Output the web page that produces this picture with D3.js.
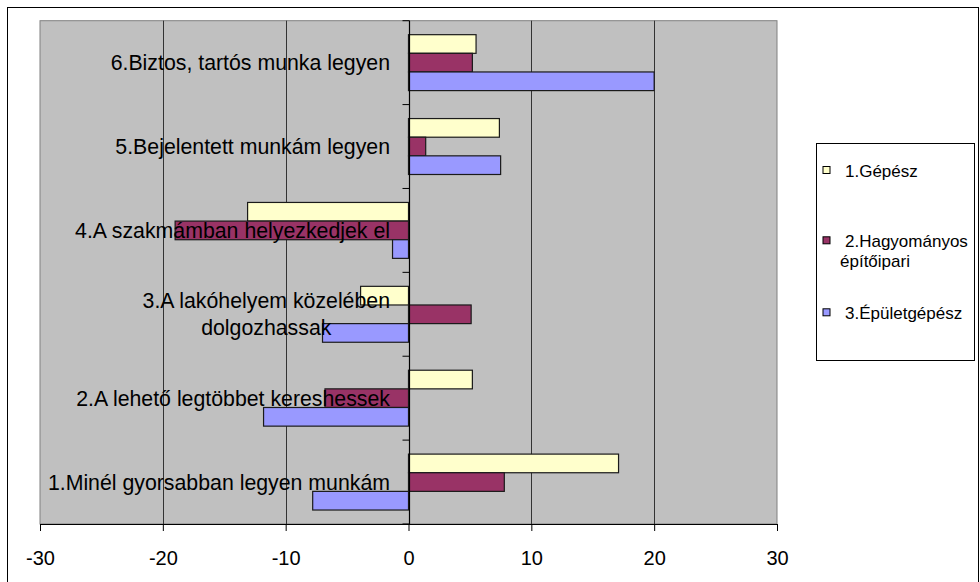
<!DOCTYPE html>
<html>
<head>
<meta charset="utf-8">
<script src="https://cdn.jsdelivr.net/npm/d3@7/dist/d3.min.js"></script>
<style>
  html, body { margin: 0; padding: 0; background: #fff; }
  svg { display: block; font-family: "Liberation Sans", Arial, sans-serif; }
</style>
</head>
<body>
<svg id="chart" width="980" height="582"></svg>
<script>
// ---- data ----
const categories = [
  "1.Minél gyorsabban legyen munkám",
  "2.A lehető legtöbbet kereshessek",
  "3.A lakóhelyem közelében\ndolgozhassak",
  "4.A szakmámban helyezkedjek el",
  "5.Bejelentett munkám legyen",
  "6.Biztos, tartós munka legyen"
];
const seriesNames = ["1.Gépész", "2.Hagyományos\népítőipari", "3.Épületgépész"];
const gepesz       = [17.1,  5.2, -3.9, -13.1, 7.4,  5.5];
const hagyomanyos  = [ 7.8, -6.8,  5.1, -19.0, 1.4,  5.2];
const epuletgepesz = [-7.8, -11.8, -7.0, -1.3, 7.5, 20.0];
const seriesValues = [gepesz, hagyomanyos, epuletgepesz];
const xTicks = [-30, -20, -10, 0, 10, 20, 30];
const colors = ["#FFFFCC", "#993366", "#9999FF"];

// ---- layout ----
const svg = d3.select("#chart");
const plot = { left: 40, right: 777, top: 20.7, bottom: 524 };

svg.append("rect").attr("x", 7.5).attr("y", 7.5).attr("width", 971).attr("height", 620)
  .attr("fill", "#fff").attr("stroke", "#000").attr("stroke-width", 1);

const x = d3.scaleLinear().domain([-30, 30]).range([plot.left, plot.right]);
const y0 = d3.scaleBand().domain(categories.slice().reverse()).range([plot.top, plot.bottom]).paddingInner(0).paddingOuter(0);
const y1 = d3.scaleBand().domain(d3.range(seriesNames.length)).range([0, y0.bandwidth()]).paddingInner(0).paddingOuter(0.75);

// plot background
svg.append("rect").attr("x", plot.left).attr("y", plot.top)
  .attr("width", plot.right - plot.left).attr("height", plot.bottom - plot.top)
  .attr("fill", "#C0C0C0").attr("stroke", "#808080").attr("stroke-width", 1);

// gridlines
svg.append("g").selectAll("line").data(xTicks.filter(t => t !== 0 && Math.abs(t) !== 30)).join("line")
  .attr("x1", d => Math.round(x(d)) + 0.5).attr("x2", d => Math.round(x(d)) + 0.5)
  .attr("y1", plot.top).attr("y2", plot.bottom)
  .attr("stroke", "#333").attr("stroke-width", 1);

// bars
const rows = [];
categories.forEach((c, ci) => seriesValues.forEach((vals, si) => rows.push({ c, si, v: vals[ci] })));
svg.append("g").selectAll("rect").data(rows).join("rect")
  .attr("x", d => x(Math.min(0, d.v)))
  .attr("y", d => y0(d.c) + y1(d.si))
  .attr("width", d => Math.abs(x(d.v) - x(0)))
  .attr("height", y1.bandwidth())
  .attr("fill", d => colors[d.si])
  .attr("stroke", "#1a1a1a").attr("stroke-width", 1.2);

// vertical axis at zero
const zx = Math.round(x(0)) + 0.5;
svg.append("line").attr("x1", zx).attr("x2", zx).attr("y1", plot.top).attr("y2", plot.bottom)
  .attr("stroke", "#000").attr("stroke-width", 1.2);
const bounds = categories.map(c => y0(c)).concat([plot.bottom]);
svg.append("g").selectAll("line").data(bounds).join("line")
  .attr("x1", zx - 7).attr("x2", zx).attr("y1", d => d).attr("y2", d => d)
  .attr("stroke", "#000").attr("stroke-width", 1);

// x axis
const xAxis = d3.axisBottom(x).tickValues(xTicks).tickSize(7).tickPadding(20).tickFormat(d => String(d));
const gx = svg.append("g").attr("transform", `translate(0,${plot.bottom})`).call(xAxis);
gx.select(".domain").attr("stroke", "#000").attr("stroke-width", 1.2).attr("d", `M${plot.left},0.5H${plot.right}`);
gx.selectAll(".tick line").attr("stroke", "#000");
gx.selectAll(".tick text").attr("font-size", 20).attr("fill", "#000")
  .attr("font-family", "'Liberation Sans', Arial, sans-serif");

// category labels
const labelRight = 390;
const lineH = 27;
categories.forEach(c => {
  const lines = c.split("\n");
  const cy = y0(c) + y0.bandwidth() / 2;
  const g = svg.append("g");
  const texts = lines.map((ln, i) => g.append("text")
    .attr("font-size", 21.3).attr("fill", "#000")
    .attr("y", cy + (i - (lines.length - 1) / 2) * lineH)
    .attr("dy", "0.36em")
    .text(ln));
  const maxW = d3.max(texts, t => t.node().getComputedTextLength());
  texts.forEach(t => t.attr("text-anchor", "middle").attr("x", labelRight - maxW / 2));
});

// legend
svg.append("rect").attr("x", 816.5).attr("y", 143.5).attr("width", 158).attr("height", 217)
  .attr("fill", "#fff").attr("stroke", "#000").attr("stroke-width", 1);
const legendY = [170, 240.3, 312.3];
seriesNames.forEach((name, i) => {
  svg.append("rect").attr("x", 823).attr("y", legendY[i] - 3.5).attr("width", 7).attr("height", 7)
    .attr("fill", colors[i]).attr("stroke", "#000").attr("stroke-width", 1);
  name.split("\n").forEach((ln, j) => {
    svg.append("text").attr("x", j === 0 ? 845 : 840).attr("y", legendY[i] + 6.5 + j * 20.6)
      .attr("font-size", 17).attr("fill", "#000").text(ln);
  });
});
</script>
</body>
</html>
